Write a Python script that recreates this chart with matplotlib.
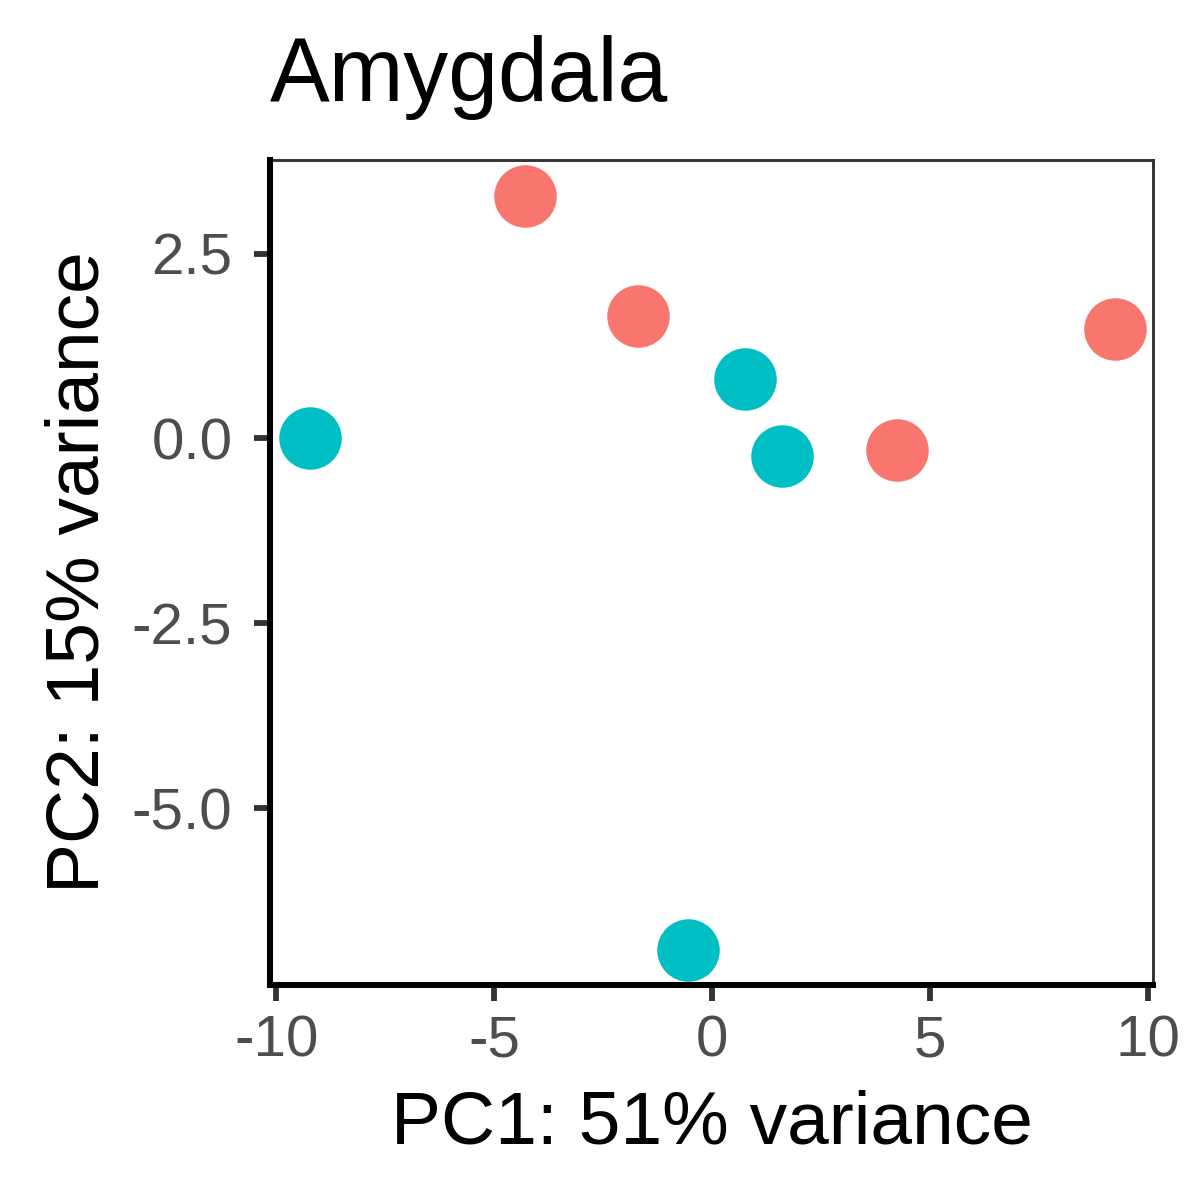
import matplotlib
matplotlib.use("Agg")
import matplotlib.pyplot as plt

plt.rcParams['font.family'] = ['Liberation Sans', 'DejaVu Sans']

# PCA coordinates
group_a_pc1 = [-4.29, -1.70, 9.24, 4.24]
group_a_pc2 = [3.28, 1.66, 1.48, -0.16]
group_b_pc1 = [-9.22, 0.76, 1.61, -0.55]
group_b_pc2 = [0.00, 0.81, -0.23, -6.91]

xticks = [-10, -5, 0, 5, 10]
yticks = [-5.0, -2.5, 0.0, 2.5]

fig = plt.figure(figsize=(4, 4), dpi=300)
ax = fig.add_axes([0.225, 0.179, 0.736, 0.688])

ax.scatter(group_a_pc1, group_a_pc2, s=225, color='#F8766D', linewidths=0, zorder=3)
ax.scatter(group_b_pc1, group_b_pc2, s=225, color='#00BFC4', linewidths=0, zorder=3)

ax.set_xlim(-10.14, 10.11)
ax.set_ylim(-7.39, 3.77)
ax.set_xticks(xticks)
ax.set_xticklabels([str(t) for t in xticks])
ax.set_yticks(yticks)
ax.set_yticklabels([f'{t:.1f}' for t in yticks])

for side in ['top', 'right']:
    ax.spines[side].set_color('#333333')
    ax.spines[side].set_linewidth(0.7)
for side in ['left', 'bottom']:
    ax.spines[side].set_color('black')
    ax.spines[side].set_linewidth(1.45)
    ax.spines[side].set_zorder(4)

ax.tick_params(axis='both', length=3.8, width=1.4, color='#333333',
               labelcolor='#4D4D4D', labelsize=14)
ax.tick_params(axis='x', pad=3.2)
ax.tick_params(axis='y', pad=5.2)

ax.set_xlabel('PC1: 51% variance', fontsize=18, labelpad=5)
ax.set_ylabel('PC2: 15% variance', fontsize=18, labelpad=4.5)
ax.set_title('Amygdala', fontsize=21.5, loc='left', pad=14)

fig.savefig('out.png', dpi=300)
